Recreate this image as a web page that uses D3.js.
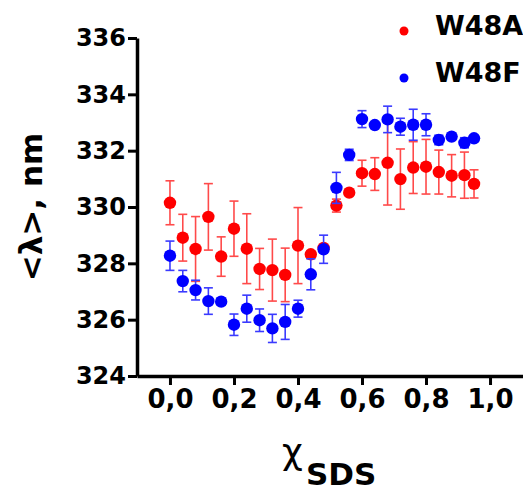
<!DOCTYPE html>
<html>
<head>
<meta charset="utf-8">
<script src="https://cdn.jsdelivr.net/npm/d3@7"></script>
<style>
  body { margin: 0; background: #fff; }
  svg text { font-family: "DejaVu Sans", sans-serif; font-weight: bold; fill: #000; }
</style>
</head>
<body>
<svg width="523" height="493"></svg>
<script>
// mole fraction of SDS
var chi = [0, 0.04, 0.08, 0.12, 0.16, 0.20, 0.24, 0.28, 0.32, 0.36, 0.40, 0.44, 0.48,
           0.52, 0.56, 0.60, 0.64, 0.68, 0.72, 0.76, 0.80, 0.84, 0.88, 0.92, 0.95]

var w48a = [330.15, 328.91, 328.51, 329.65, 328.24, 329.23, 328.52, 327.80, 327.76, 327.59, 328.63, 328.32, 328.55,
            330.05, 330.51, 331.20, 331.17, 331.57, 330.99, 331.40, 331.43, 331.24, 331.11, 331.13, 330.82]
var w48aErr = [0.78, 0.83, 1.15, 1.18, 0.70, 0.98, 1.24, 0.73, 1.10, 0.95, 1.35, 0.12, 0.08,
               0.23, 0.05, 0.46, 0.58, 1.50, 1.07, 0.92, 0.97, 0.78, 0.75, 0.82, 0.50]

var w48f = [328.27, 327.37, 327.05, 326.66, 326.64, 325.82, 326.39, 325.98, 325.69, 325.92, 326.39, 327.61, 328.50,
            330.68, 331.85, 333.12, 332.91, 333.11, 332.85, 332.92, 332.92, 332.38, 332.50, 332.28, 332.44]
var w48fErr = [0.52, 0.38, 0.35, 0.47, 0.12, 0.38, 0.48, 0.40, 0.50, 0.62, 0.30, 0.55, 0.50,
               0.55, 0.20, 0.30, 0.05, 0.47, 0.30, 0.55, 0.39, 0.17, 0.05, 0.18, 0.05]

var xTicks = [0, 0.2, 0.4, 0.6, 0.8, 1.0]
var xTickLabels = ["0,0", "0,2", "0,4", "0,6", "0,8", "1,0"]
var yTicks = [324, 326, 328, 330, 332, 334, 336]

var series = [
  {name: "W48A", values: w48a, err: w48aErr, color: "#ff0000", barColor: "#ff4a4a"},
  {name: "W48F", values: w48f, err: w48fErr, color: "#0000ff", barColor: "#3a3aff"}
]

var svg = d3.select("svg")

var xScale = d3.scaleLinear().domain([-0.103, 1.103]).range([137, 523])
var yScale = d3.scaleLinear().domain([324, 336]).range([376, 38])

// axes
var xAxis = svg.append("g")
  .attr("transform", "translate(0,376)")
  .call(d3.axisBottom(xScale).tickValues(xTicks).tickSize(9).tickSizeOuter(0)
    .tickFormat(function(d, i){ return xTickLabels[i]; }))
xAxis.select(".domain").attr("stroke-width", 3.5)
xAxis.selectAll(".tick line").attr("stroke-width", 3)
xAxis.selectAll(".tick text").attr("font-size", 26).attr("y", 14).attr("dy", "0.71em")

var yAxis = svg.append("g")
  .attr("transform", "translate(137,0)")
  .call(d3.axisLeft(yScale).tickValues(yTicks).tickSize(9).tickSizeOuter(0))
yAxis.select(".domain").attr("stroke-width", 3.5)
yAxis.selectAll(".tick line").attr("stroke-width", 3)
yAxis.selectAll(".tick text").attr("font-size", 24).attr("x", -11)

// error bars and points
series.forEach(function(s){
  var g = svg.append("g")
  var pts = chi.map(function(c, i){ return {x: c, y: s.values[i], e: s.err[i]}; })

  g.selectAll("line.bar").data(pts).enter().append("line")
    .attr("x1", function(d){ return xScale(d.x); })
    .attr("x2", function(d){ return xScale(d.x); })
    .attr("y1", function(d){ return yScale(d.y + d.e); })
    .attr("y2", function(d){ return yScale(d.y - d.e); })
    .attr("stroke", s.barColor).attr("stroke-width", 1.6)

  ;[1, -1].forEach(function(sign){
    g.selectAll("line.cap" + sign).data(pts).enter().append("line")
      .attr("x1", function(d){ return xScale(d.x) - 4.5; })
      .attr("x2", function(d){ return xScale(d.x) + 4.5; })
      .attr("y1", function(d){ return yScale(d.y + sign * d.e); })
      .attr("y2", function(d){ return yScale(d.y + sign * d.e); })
      .attr("stroke", s.barColor).attr("stroke-width", 1.6)
  })

  g.selectAll("circle").data(pts).enter().append("circle")
    .attr("cx", function(d){ return xScale(d.x); })
    .attr("cy", function(d){ return yScale(d.y); })
    .attr("r", 6.2)
    .attr("fill", s.color)
})

// legend
var legend = svg.selectAll("g.legend").data(series).enter().append("g")
  .attr("transform", function(d, i){ return "translate(404," + (31 + i * 47) + ")"; })
legend.append("circle").attr("r", 4.5).attr("fill", function(d){ return d.color; })
legend.append("text").attr("x", 31).attr("y", 4).attr("font-size", 27)
  .text(function(d){ return d.name; })

// axis titles
svg.append("text").attr("x", 282).attr("y", 464)
  .attr("font-size", 36).style("font-weight", "normal").text("χ")
svg.append("text").attr("x", 306).attr("y", 485)
  .attr("font-size", 31).text("SDS")

svg.append("text")
  .attr("transform", "translate(42,207) rotate(-90)")
  .attr("text-anchor", "middle")
  .attr("font-size", 31)
  .text("<λ>, nm")
</script>
</body>
</html>
